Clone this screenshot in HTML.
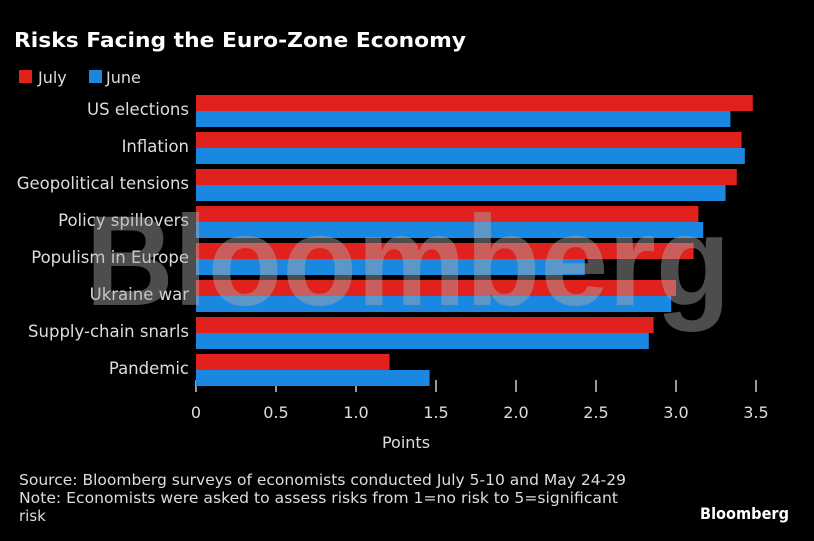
<!DOCTYPE html>
<html><head><meta charset="utf-8"><style>
body{margin:0;background:#000;width:814px;height:541px;overflow:hidden;font-family:"DejaVu Sans",sans-serif;color:#ddd}
svg{position:absolute;left:0;top:0;font-family:"DejaVu Sans",sans-serif}
</style></head><body>
<svg width="814" height="541">
<text x="14" y="47" font-size="20" font-weight="bold" fill="#fff" textLength="452" lengthAdjust="spacingAndGlyphs">Risks Facing the Euro-Zone Economy</text>
<g>
<rect x="19" y="70" width="13" height="13" fill="#e0211d"/>
<text x="38" y="83" font-size="16" fill="#ddd">July</text>
<rect x="89" y="70" width="13" height="13" fill="#1a88e0"/>
<text x="106" y="83" font-size="16" fill="#ddd">June</text>
</g>
<g id="plot"></g>
<text x="406" y="448" font-size="16" fill="#ddd" text-anchor="middle">Points</text>
<text x="19" y="485" font-size="15" fill="#ddd" textLength="607" lengthAdjust="spacingAndGlyphs">Source: Bloomberg surveys of economists conducted July 5-10 and May 24-29</text>
<text x="19" y="503" font-size="15" fill="#ddd" textLength="599" lengthAdjust="spacingAndGlyphs">Note: Economists were asked to assess risks from 1=no risk to 5=significant</text>
<text x="19" y="521" font-size="15" fill="#ddd">risk</text>
<text x="789" y="519" font-size="16" font-weight="bold" fill="#fff" text-anchor="end" textLength="89" lengthAdjust="spacingAndGlyphs">Bloomberg</text>
<text x="408" y="305" font-size="128" font-weight="bold" fill="#aaa" fill-opacity="0.45" text-anchor="middle" textLength="645" lengthAdjust="spacingAndGlyphs" font-family="Liberation Sans">Bloomberg</text>
</svg>
<script>
const categories=["US elections","Inflation","Geopolitical tensions","Policy spillovers","Populism in Europe","Ukraine war","Supply-chain snarls","Pandemic"];
const july=[3.48,3.41,3.38,3.14,3.11,3.0,2.86,1.21];
const june=[3.34,3.43,3.31,3.17,2.43,2.97,2.83,1.46];
const ticks=[0,0.5,1.0,1.5,2.0,2.5,3.0,3.5];
const tickLabels=["0","0.5","1.0","1.5","2.0","2.5","3.0","3.5"];
const NS="http://www.w3.org/2000/svg";
const g=document.getElementById('plot');
const x=v=>196+v*160;
const rowY=i=>95+i*37;
function mk(t,a){const e=document.createElementNS(NS,t);for(const k in a)e.setAttribute(k,a[k]);g.appendChild(e);return e;}
ticks.forEach((t,i)=>{
 const l=mk('line',{x1:x(t),x2:x(t),y1:380,y2:392,stroke:'#ccc','stroke-width':1.5});
 
 
 const tx=mk('text',{x:x(t),y:418,'font-size':16,fill:'#ddd','text-anchor':'middle'});
 tx.textContent=tickLabels[i];
 
 
});
categories.forEach((c,i)=>{
 const y=rowY(i);
 const a=mk('rect',{x:x(0),y:y,width:x(july[i])-x(0),height:16,fill:'#e0211d'});
 
 
 const b=mk('rect',{x:x(0),y:y+16,width:x(june[i])-x(0),height:16,fill:'#1a88e0'});
 
 
 const t=mk('text',{x:189,y:y+20,'font-size':16.5,fill:'#ddd','text-anchor':'end'});
 t.textContent=c;
 
 
});
</script>
</body></html>
